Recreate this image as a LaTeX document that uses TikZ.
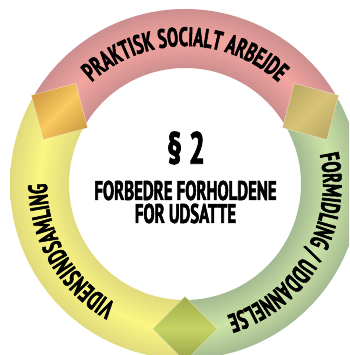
\documentclass[tikz,border=0pt]{standalone}
\usepackage{fontspec}
\newfontfamily\cond{PT Sans}[FakeStretch=0.62,FakeBold=2]
\usetikzlibrary{decorations.text}
\definecolor{redE}{RGB}{204,142,142}
\definecolor{redM}{RGB}{244,166,160}
\definecolor{yelE}{RGB}{224,218,125}
\definecolor{yelM}{RGB}{252,246,130}
\definecolor{grnE}{RGB}{164,186,145}
\definecolor{grnM}{RGB}{204,228,166}
\pgfdeclareradialshading{redring}{\pgfpoint{0bp}{0bp}}{color(0bp)=(redE); color(16.5bp)=(redE); color(20.8bp)=(redM); color(25bp)=(redE); color(50bp)=(redE)}
\pgfdeclareradialshading{yelring}{\pgfpoint{0bp}{0bp}}{color(0bp)=(yelE); color(16.5bp)=(yelE); color(20.8bp)=(yelM); color(25bp)=(yelE); color(50bp)=(yelE)}
\pgfdeclareradialshading{grnring}{\pgfpoint{0bp}{0bp}}{color(0bp)=(grnE); color(16.5bp)=(grnE); color(20.8bp)=(grnM); color(25bp)=(grnE); color(50bp)=(grnE)}
\newcommand\ringfont{\cond\bfseries\fontsize{26.5}{26.5}\selectfont}
\tikzset{
  ringtext/.style={decorate, decoration={text along path, text align=center, text={|\ringfont|#1}}},
  diamondedge/.style={draw=white, draw opacity=0.5, line width=0.5pt}
}
\begin{document}
\begin{tikzpicture}[x=1pt,y=1pt]
\useasboundingbox (0,0) rectangle (349,355);
\clip (0,0) rectangle (349,355);
\coordinate (C) at (185,171);
% ring segments
\begin{scope}
  \clip ([shift={(30:175)}]C) arc[start angle=30,end angle=150,radius=175] -- ([shift={(150:116)}]C) arc[start angle=150,end angle=30,radius=116] -- cycle;
  \shade[shading=redring] (C) circle[radius=175];
\end{scope}
\begin{scope}
  \clip ([shift={(150:175)}]C) arc[start angle=150,end angle=270,radius=175] -- ([shift={(270:116)}]C) arc[start angle=270,end angle=150,radius=116] -- cycle;
  \shade[shading=yelring] (C) circle[radius=175];
\end{scope}
\begin{scope}
  \clip ([shift={(270:175)}]C) arc[start angle=270,end angle=390,radius=175] -- ([shift={(390:116)}]C) arc[start angle=390,end angle=270,radius=116] -- cycle;
  \shade[shading=grnring] (C) circle[radius=175];
\end{scope}
% diamonds
\shade[diamondedge, top color={rgb,255:red,210;green,158;blue,70}, bottom color={rgb,255:red,210;green,158;blue,70}, middle color={rgb,255:red,248;green,202;blue,95}, shading angle=45]
  ([shift={(150:145)}]C) ++(150:32.5) -- ++(285:46) -- ++(15:46) -- ++(105:46) -- cycle;
\shade[diamondedge, top color={rgb,255:red,190;green,170;blue,100}, bottom color={rgb,255:red,190;green,170;blue,100}, middle color={rgb,255:red,215;green,196;blue,120}, shading angle=45]
  ([shift={(30:145)}]C) ++(30:32.5) -- ++(165:46) -- ++(255:46) -- ++(345:46) -- cycle;
\shade[diamondedge, top color={rgb,255:red,160;green,172;blue,75}, bottom color={rgb,255:red,150;green,160;blue,70}, middle color={rgb,255:red,198;green,212;blue,100}]
  ([shift={(270:145)}]C) ++(270:32.5) -- ++(45:46) -- ++(135:46) -- ++(225:46) -- cycle;
% ring texts
\path[ringtext={PRAKTISK SOCIALT ARBEJDE}] ([shift={(150:138)}]C) arc[start angle=150,end angle=30,radius=138];
\path[ringtext={FORMIDLING / UDDANNELSE}] ([shift={(30:138)}]C) arc[start angle=30,end angle=-90,radius=138];
\path[ringtext={VIDENSINDSAMLING}] ([shift={(270:138)}]C) arc[start angle=270,end angle=150,radius=138];
% centre text
\node[font=\cond\bfseries\fontsize{45}{45}\selectfont, inner sep=0pt] (para) at (186,207) {§ 2};
\node[font=\cond\bfseries\fontsize{27}{23}\selectfont, align=center, inner sep=0pt] (goal) at (185.5,153) {FORBEDRE FORHOLDENE\\FOR UDSATTE};
\end{tikzpicture}
\end{document}
